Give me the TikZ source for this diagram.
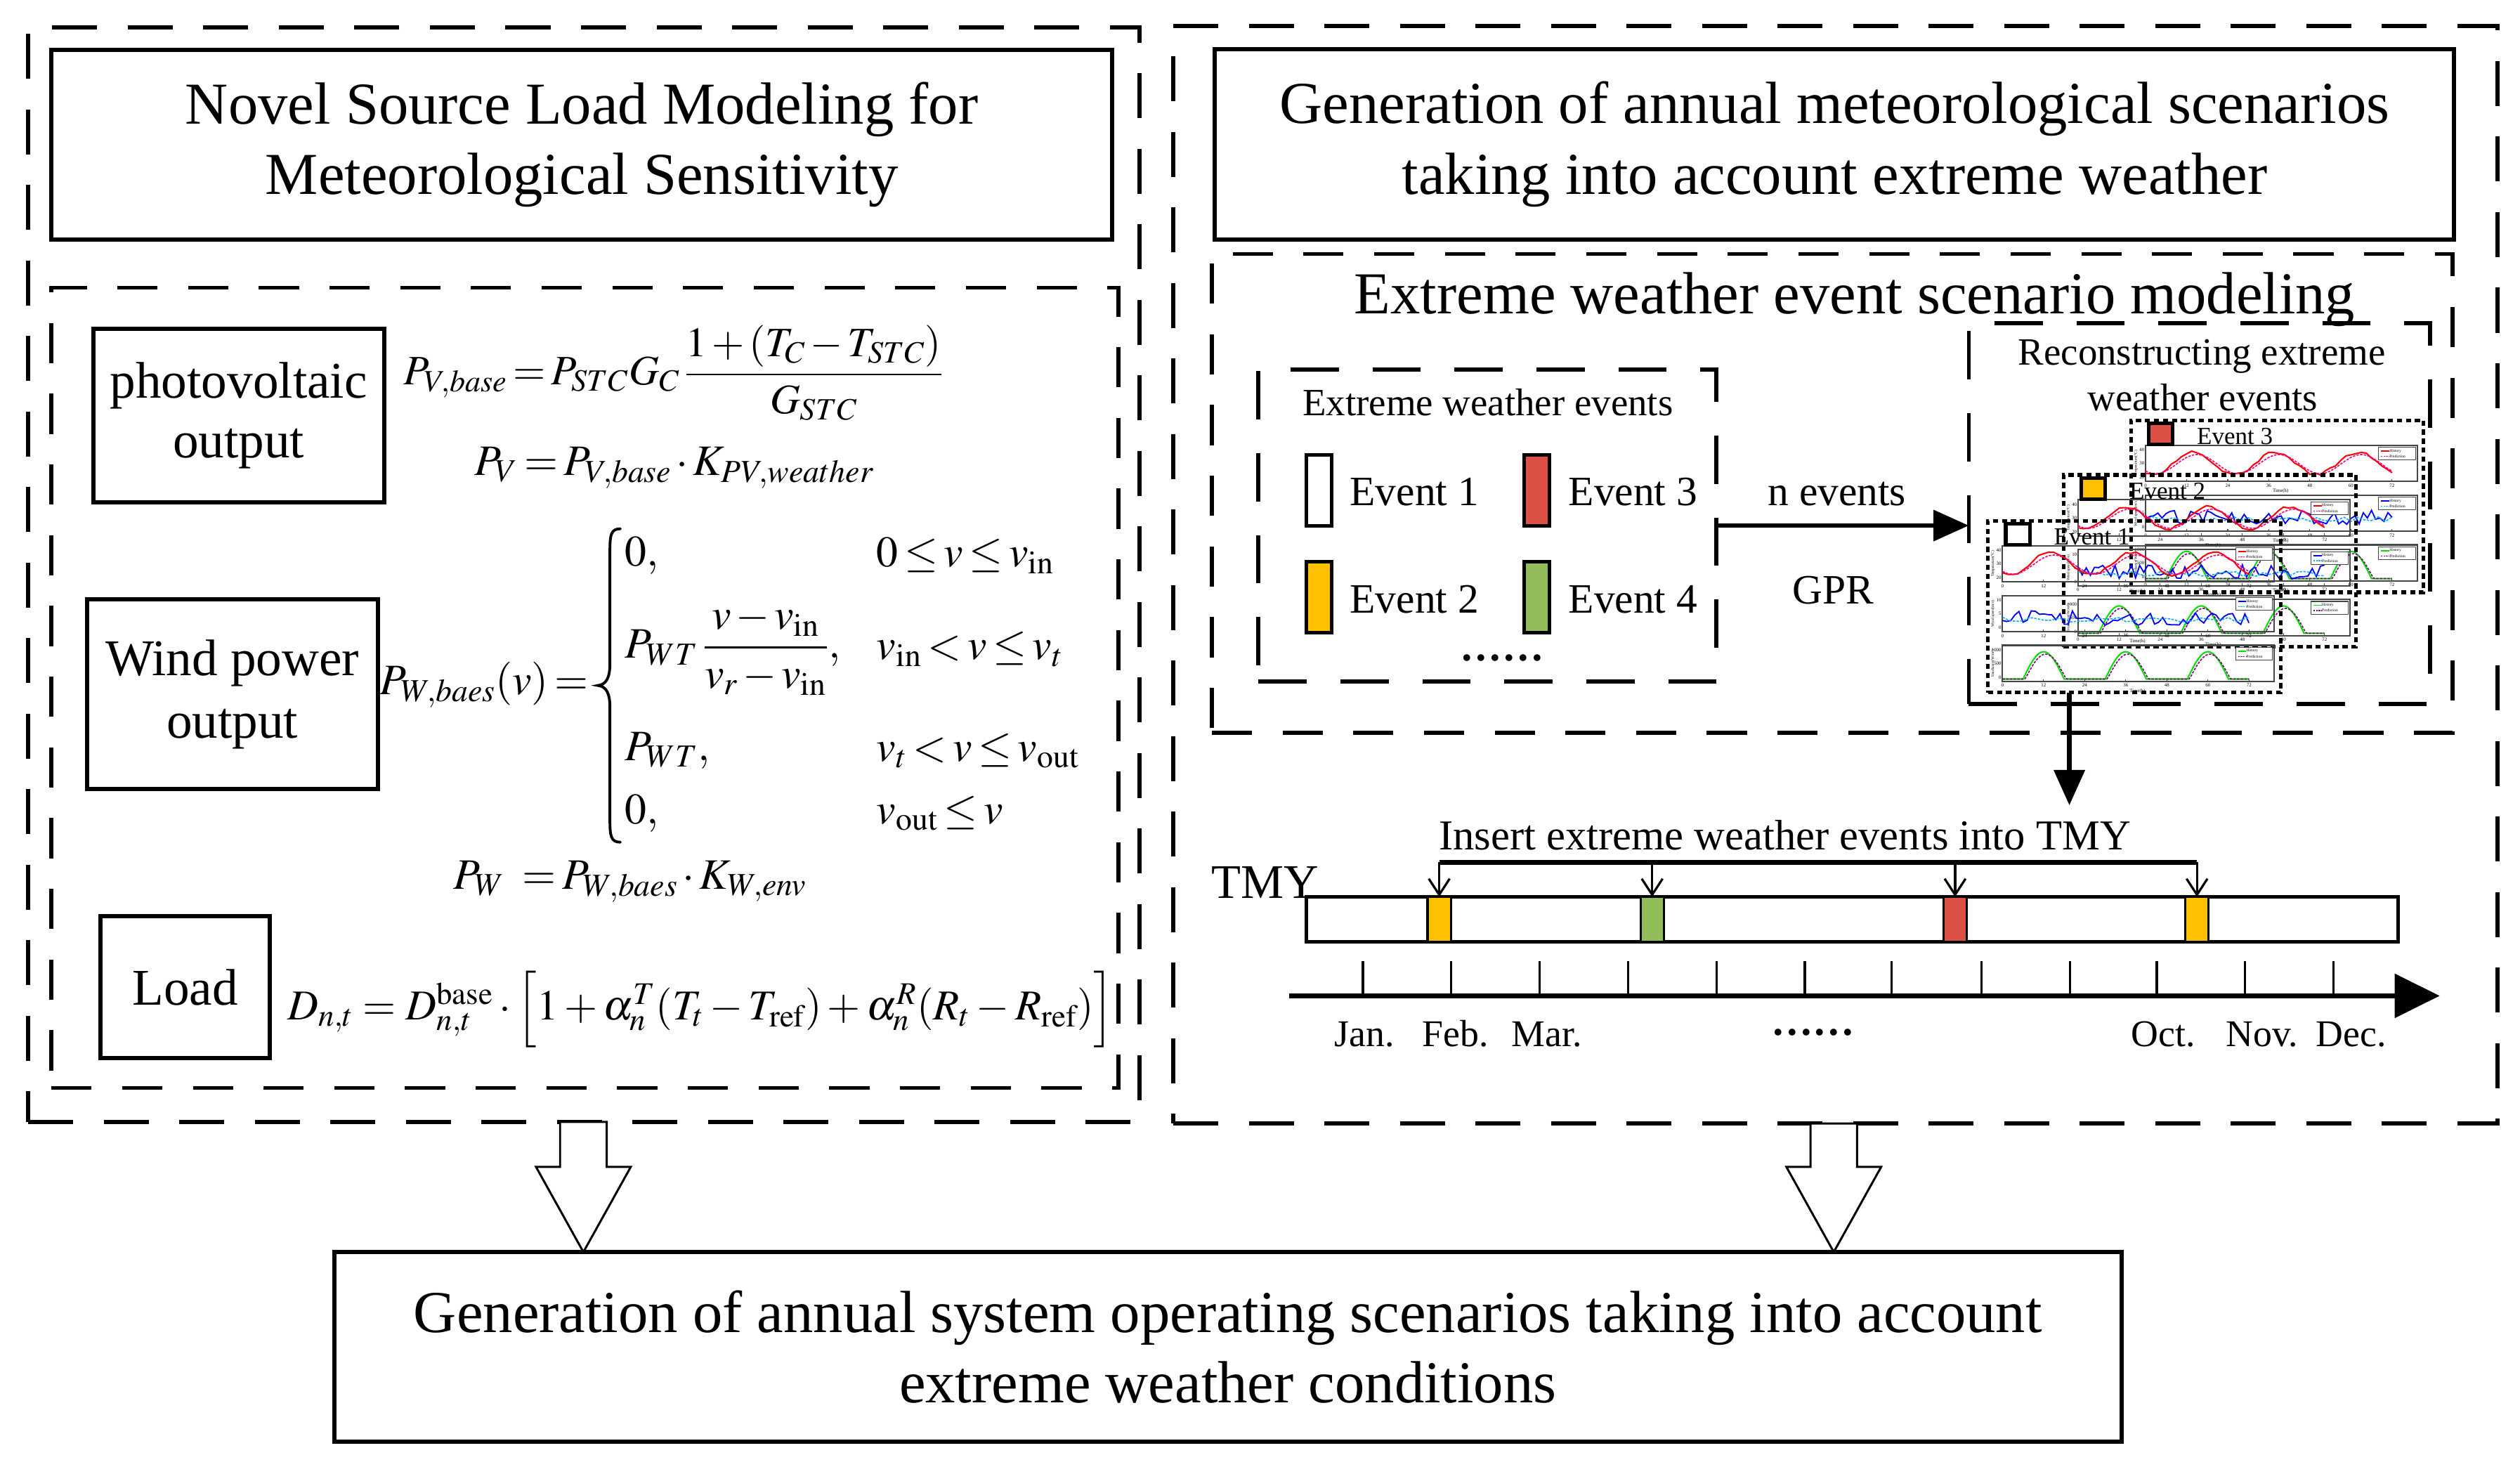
\documentclass[tikz,border=0pt]{standalone}
\usepackage{amsmath}
\usepackage{mathptmx}
\usepackage[no-math]{fontspec}
\setmainfont{Liberation Serif}
\usetikzlibrary{arrows.meta,calc}
\definecolor{evred}{RGB}{220,80,70}
\definecolor{evorange}{RGB}{255,192,0}
\definecolor{evgreen}{RGB}{146,187,90}
\definecolor{frgray}{RGB}{70,70,70}
\definecolor{irrgreen}{RGB}{0,225,0}
\definecolor{irrpurple}{RGB}{130,0,130}
\newcommand{\fsz}[2]{\fontsize{#1}{#2}\selectfont}
\newcommand{\tgt}{\thickmuskip=2.5mu\relax\medmuskip=2mu\relax}
\newcommand{\plotframe}[4]{%
  \draw[frgray, line width=0.9pt] (0,0) rectangle (169,22.5);
  \foreach \tk in {0,12,...,72} {
    \draw[frgray, line width=0.5pt] ({\tk*2.13},22.5) -- ({\tk*2.13},21);
    \node[tinytxt] at ({\tk*2.13},25) {\tk};
  }
  \node[tinytxt] at (84,28.4) {Time(h)};
  \node[tinytxt, anchor=east] at (-0.8,3) {#1};
  \node[tinytxt, anchor=east] at (-0.8,11.25) {#2};
  \node[tinytxt, anchor=east] at (-0.8,20) {#3};
  \node[legtxt, rotate=90] at (-6,11.25) {#4};
}
\newcommand{\plotlegend}[2]{%
  \draw[frgray, line width=0.5pt, fill=white] (145,1.2) rectangle (168,9.2);
  \draw[#1, line width=0.8pt] (146.5,3.6) -- (151.5,3.6);
  \draw[#2, line width=0.6pt, dash pattern=on 1pt off 0.6pt] (146.5,6.9) -- (151.5,6.9);
  \node[legtxt, anchor=west] at (151.8,3.6) {History};
  \node[legtxt, anchor=west] at (151.8,6.9) {Prediction};
}
\newcommand{\evchart}[5]{%
  \begin{scope}[shift={(#1,#2)}]
    \begin{scope}[shift={(9,15.5)}]
      \plotframe{40}{30}{20}{Temperature(°C)}
      \draw[red, line width=0.9pt] plot[domain=0:72, samples=49] ({\x*2.13},{11.25-7*sin(15*(\x-8))+0.9*rand});
      \draw[magenta, line width=0.7pt, dash pattern=on 1.5pt off 0.8pt] plot[domain=0:72, samples=49] ({\x*2.13},{11.8-6*sin(15*(\x-9))});
      \plotlegend{red}{magenta}
    \end{scope}
    \begin{scope}[shift={(9,46.5)}]
      \plotframe{10}{5}{0}{Wind speed(m/s)}
      \draw[blue, line width=0.8pt] plot[domain=0:72, samples=61] ({\x*2.13},{14+4.5*rand});
      \draw[cyan, line width=0.7pt, dash pattern=on 1.5pt off 0.8pt] plot[domain=0:72, samples=37] ({\x*2.13},{15+1.5*rand});
      \plotlegend{blue}{cyan}
    \end{scope}
    \begin{scope}[shift={(9,77.5)}]
      \plotframe{1000}{500}{0}{Irradiance(W/m²)}
      \draw[irrgreen, line width=0.9pt] plot[domain=0:72, samples=145] ({\x*2.13},{21-17*max(0,sin(15*(\x-6)))});
      \draw[irrpurple, line width=0.7pt, dash pattern=on 1.5pt off 0.8pt] plot[domain=0:72, samples=145] ({\x*2.13},{21-15.5*max(0,sin(15*(\x-6.6)))});
      \plotlegend{irrgreen}{irrpurple}
    \end{scope}
  \end{scope}
  \node[dotbox, anchor=north west, minimum width=182pt, minimum height=107pt] (#5) at (#1,#2) {};
  \node[evsquare, fill=#3] (#5sq) at ($(#1,#2)+(18.5,8.5)$) {};
  \node[evlab, anchor=base west] (#5lab) at ($(#1,#2)+(41,15)$) {#4};
}
\begin{document}
\begin{tikzpicture}[x=1pt,y=-1pt,
  every node/.style={inner sep=0pt, outer sep=0pt},
  solidbox/.style={draw, line width=2.6pt, align=center},
  frame/.style={draw, line width=2.6pt, dash pattern=on 28pt off 19pt},
  subframe/.style={draw, line width=2.4pt, dash pattern=on 25pt off 19pt},
  dotbox/.style={draw, line width=2.2pt, dash pattern=on 3.2pt off 2.4pt},
  bigtxt/.style={font=\fsz{37}{44}, align=center},
  midtxt/.style={font=\fsz{32}{37}, align=center},
  evtxt/.style={font=\fsz{26}{30}},
  mathf/.style={font=\fsz{27}{32}},
  mathd/.style={font=\fsz{26.5}{32}},
  tinytxt/.style={font=\fsz{3}{3.5}},
  legtxt/.style={font=\fsz{2.4}{2.8}},
  evsquare/.style={draw, line width=2.2pt, minimum width=15pt, minimum height=13pt},
  evlab/.style={font=\fsz{15.3}{18}},
  evbar/.style={draw, line width=2.2pt, minimum width=15.5pt, minimum height=44pt},
  tmark/.style={draw, line width=1.4pt, minimum width=14.5pt, minimum height=28pt},
  thickarrow/.style={line width=2.8pt, -{Triangle[length=22pt,width=19pt]}},
  veearrow/.style={line width=1.4pt, -{Straight Barb[length=10pt,width=13pt,line width=1.4pt]}},
  hollow/.style={draw, line width=1.3pt, fill=white},
  month/.style={font=\fsz{23.5}{28}, anchor=base}
]
\useasboundingbox (0,0) rectangle (1568,917);

% ---------- left part ----------
\node[frame, minimum width=691.5pt, minimum height=681pt] (lframe) at (363.25,357.5) {};
\node[solidbox, bigtxt, minimum width=660pt, minimum height=118pt] (ltitle) at (362,90) {Novel Source Load Modeling for\\Meteorological Sensitivity};
\node[subframe, minimum width=664pt, minimum height=498pt] (lmodel) at (364,428) {};
\node[solidbox, midtxt, minimum width=181pt, minimum height=108pt] (pvbox) at (148.5,258.5) {photovoltaic\\output};
\node[solidbox, font=\fsz{32}{38.6}, align=center, minimum width=181pt, minimum height=118pt] (wbox) at (144.5,432) {Wind power\\output};
\node[solidbox, midtxt, minimum width=105.5pt, minimum height=88.5pt] (lbox) at (115.25,614.25) {Load};

\node[font=\fsz{26}{31}] (fpv1) at (419,232) {$\tgt\displaystyle P_{V,base}=P_{STC}G_C\,\frac{1+(T_C-T_{STC})}{G_{STC}}$};
\node[mathf] (fpv2) at (419.5,291) {$\tgt P_V=P_{V,base}\cdot K_{PV,weather}$};

\node[mathf, anchor=east] (fw0) at (366,426) {$\tgt P_{W,baes}(v)=$};
\draw[line width=1.7pt, line cap=round]
  (386,329) .. controls (380,329) and (379.5,333) .. (379.5,343)
  -- (379.5,413) .. controls (379.5,422) and (377,426) .. (372,426.5)
  .. controls (377,427) and (379.5,431) .. (379.5,440)
  -- (379.5,510) .. controls (379.5,520) and (380,524) .. (386,524);
\node[mathf, anchor=west] (fr1a) at (389,345.5) {$0,$};
\node[mathf, anchor=west] (fr1b) at (545.5,345.5) {$\tgt 0\le v\le v_{\mathrm{in}}$};
\node[mathf, anchor=west] (fr2a) at (389,404) {$\tgt\displaystyle P_{WT}\,\frac{v-v_{\mathrm{in}}}{v_r-v_{\mathrm{in}}},$};
\node[mathf, anchor=west] (fr2b) at (545.5,404) {$\tgt v_{\mathrm{in}}<v\le v_t$};
\node[mathf, anchor=west] (fr3a) at (389,467) {$P_{WT},$};
\node[mathf, anchor=west] (fr3b) at (545.5,467) {$\tgt v_t<v\le v_{\mathrm{out}}$};
\node[mathf, anchor=west] (fr4a) at (389,506) {$0,$};
\node[mathf, anchor=west] (fr4b) at (545.5,506) {$\tgt v_{\mathrm{out}}\le v$};

\node[mathf] (fpw) at (392,548.7) {$\tgt P_W\;\;=P_{W,baes}\cdot K_{W,env}$};
\node[mathd] (fd) at (436,628) {$D_{n,t}=D_{n,t}^{\mathrm{base}}\cdot\Big[1+\alpha_n^T(T_t-T_{\mathrm{ref}})+\alpha_n^R(R_t-R_{\mathrm{ref}})\Big]$};

% ---------- right part ----------
\node[frame, minimum width=824pt, minimum height=683pt] (rframe) at (1142,357.5) {};
\node[solidbox, bigtxt, minimum width=771pt, minimum height=118.5pt] (rtitle) at (1141.5,89.75) {Generation of annual meteorological scenarios\\taking into account extreme weather};
\node[subframe, minimum width=772pt, minimum height=298pt] (ewbox) at (1140,307) {};
\node[bigtxt, anchor=base] (ewtitle) at (1154,195.2) {Extreme weather event scenario modeling};

\node[subframe, dash pattern=on 30pt off 21pt, minimum width=285pt, minimum height=194pt] (evbox) at (925.5,327) {};
\node[font=\fsz{24}{28}, anchor=base] (evlabel) at (925.75,258.5) {Extreme weather events};
\node[evbar, fill=white] (e1) at (820.75,305) {};
\node[evbar, fill=evred] (e3) at (956.3,305) {};
\node[evbar, fill=evorange] (e2) at (820.75,371.5) {};
\node[evbar, fill=evgreen] (e4) at (956.3,371.5) {};
\node[evtxt, anchor=base west] (t1) at (840,314.6) {Event 1};
\node[evtxt, anchor=base west] (t3) at (976,314.6) {Event 3};
\node[evtxt, anchor=base west] (t2) at (840,381.2) {Event 2};
\node[evtxt, anchor=base west] (t4) at (976,381.2) {Event 4};
\node[font=\fsz{26}{30}\bfseries, anchor=base] (edots) at (934.75,411) {……};

\node[subframe, dash pattern=on 30pt off 21pt, minimum width=287pt, minimum height=237pt] (recbox) at (1368.5,319.5) {};
\node[font=\fsz{24}{28}, anchor=base] (rec1) at (1370,227) {Reconstructing extreme};
\node[font=\fsz{24}{28}, anchor=base] (rec2) at (1370.5,255.5) {weather events};

\pgfmathsetseed{7}
\evchart{1326}{261.5}{evred}{Event 3}{ch3}
\pgfmathsetseed{11}
\evchart{1284}{295.5}{evorange}{Event 2}{ch2}
\pgfmathsetseed{23}
\evchart{1237}{324}{white}{Event 1}{ch1}

\draw[thickarrow] (evbox.east) -- (evbox.east -| recbox.west);
\node[evtxt, anchor=base] (nev) at (1143,314.6) {n events};
\node[evtxt, anchor=base] (gpr) at (1140.5,375.6) {GPR};

\coordinate (tmyin) at (1287.6,501);
\draw[thickarrow] (ch1.south -| tmyin) -- (tmyin);

% ---------- TMY ----------
\node[font=\fsz{26.5}{30}, anchor=base] (instxt) at (1110.5,528.7) {Insert extreme weather events into TMY};
\node[font=\fsz{30}{34}, anchor=base] (tmylab) at (787,559) {TMY};
\node[draw, line width=2.3pt, minimum width=679pt, minimum height=28pt] (tmybar) at (1152.5,572) {};
\node[tmark, fill=evorange] (tm1) at (895.5,572) {};
\node[tmark, fill=evgreen] (tm2) at (1028,572) {};
\node[tmark, fill=evred] (tm3) at (1216.5,572) {};
\node[tmark, fill=evorange] (tm4) at (1367,572) {};
\coordinate (brk) at (0,536.5);
\draw[line width=3pt] (tm1.north |- brk) -- (tm4.north |- brk);
\foreach \m in {tm1,tm2,tm3,tm4} {
  \draw[veearrow] (\m.north |- brk) -- (\m.north);
}
\coordinate (ax0) at (802,619.6);
\coordinate (ax1) at (1518,619.6);
\draw[line width=3pt, -{Triangle[length=28pt,width=27pt]}] (ax0) -- (ax1);
\foreach \tx in {848,903,958,1013,1068,1123,1177,1233,1288,1342,1397,1452} {
  \draw[line width=1.4pt] (\tx,598) -- (\tx,619.6);
}
\node[month] (mjan) at (849,651.3) {Jan.};
\node[month] (mfeb) at (905.5,651.3) {Feb.};
\node[month] (mmar) at (962.5,651.3) {Mar.};
\node[month, font=\fsz{26}{30}\bfseries] (mdots) at (1128,644) {……};
\node[month] (moct) at (1346,651.3) {Oct.};
\node[month] (mnov) at (1407.5,651.3) {Nov.};
\node[month] (mdec) at (1463,651.3) {Dec.};

% ---------- bottom ----------
\node[solidbox, bigtxt, minimum width=1112pt, minimum height=118pt] (botbox) at (764,838) {Generation of annual system operating scenarios taking into account\\extreme weather conditions};
\coordinate (la) at (363,0);
\coordinate (ra) at (1141,0);
\draw[hollow] (lframe.south -| la) ++(-14.5,0) -- ++(0,28) -- ++(-15,0) -- (botbox.north -| la) -- ++(29.5,-53) -- ++(-15,0) -- ++(0,-28) -- cycle;
\draw[hollow] (rframe.south -| ra) ++(-14.5,0) -- ++(0,27) -- ++(-15,0) -- (botbox.north -| ra) -- ++(29.5,-53) -- ++(-15,0) -- ++(0,-27) -- cycle;
\end{tikzpicture}
\end{document}
